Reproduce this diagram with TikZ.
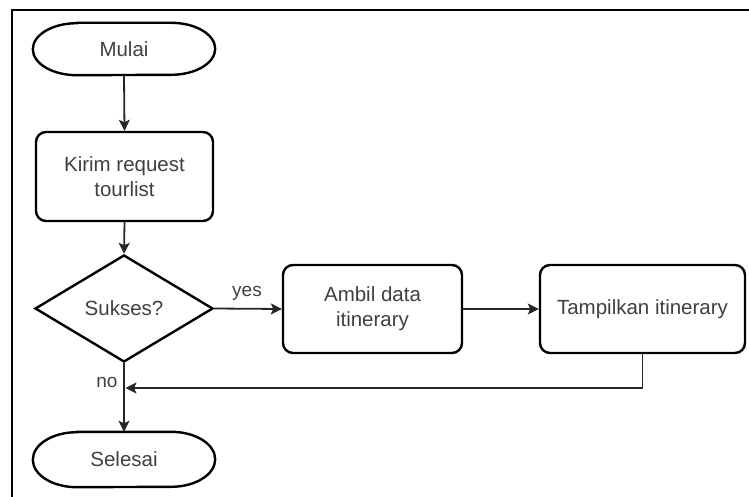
\documentclass[tikz,border=0pt]{standalone}
\usepackage{fontspec}
\setmainfont{Liberation Sans}
\usetikzlibrary{shapes.geometric,arrows.meta}
\definecolor{txt}{RGB}{64,64,64}
\begin{document}
\begin{tikzpicture}[x=1pt,y=-1pt,
  base/.style={font=\fontsize{20.5}{25}\selectfont, text=txt, align=center, inner sep=0pt},
  procbox/.style={base, draw=black, line width=2.4pt, rounded corners=10pt},
  termtext/.style={base, minimum width=182pt},
  decision/.style={base, shape=diamond, draw=black, line width=2.4pt, minimum width=178pt, minimum height=107pt},
  flow/.style={line width=1.8pt, draw=black!85, -{Stealth[length=11pt,width=11pt,inset=2.5pt]}},
  lbl/.style={font=\fontsize{19}{22}\selectfont, text=txt, inner sep=0pt},
  frameline/.style={line width=2pt, draw=black}
]
\useasboundingbox (0,0) rectangle (749,497);

% page frame (top and left edges)
\draw[frameline] (12,497) -- (12,10) -- (749,10);

% start / end terminals: flat tops with elliptic ends
\node[termtext, minimum height=52pt] (mulai) at (124,49) {Mulai};
\node[termtext, minimum height=55pt] (selesai) at (124,459.5) {Selesai};
\foreach \t/\ry in {mulai/26, selesai/27.5}{
  \draw[line width=2.4pt]
    ([xshift=44pt]\t.north west) -- ([xshift=-44pt]\t.north east)
    arc[start angle=90, end angle=-90, x radius=44pt, y radius=\ry pt]
    -- ([xshift=44pt]\t.south west)
    arc[start angle=270, end angle=90, x radius=44pt, y radius=\ry pt] -- cycle;
}

% process steps
\node[procbox, minimum width=177pt, minimum height=89pt] (kirim) at (124.5,176.5) {Kirim request\\tourlist};
\node[decision] (sukses) at (124,308.5) {Sukses?};
\node[procbox, minimum width=179pt, minimum height=88pt] (ambil) at (372.5,309) {Ambil data\\itinerary};
\node[procbox, minimum width=205pt, minimum height=88pt] (tampil) at (642.5,309) {Tampilkan itinerary};

% connectors
\draw[flow] (mulai.south) -- (kirim.north);
\draw[flow] (kirim.south) -- (sukses.north);
\draw[flow] (sukses.east) -- (ambil.west);
\draw[flow] (ambil.east) -- (tampil.west);
\coordinate (merge) at (125.5,388);
\draw[flow] (tampil.south) |- (merge);
\draw[flow] (sukses.south) -- (selesai.north);

% branch labels
\node[lbl] (yes) at (247,293) {yes};
\node[lbl] (no) at (107,382) {no};
\end{tikzpicture}
\end{document}
